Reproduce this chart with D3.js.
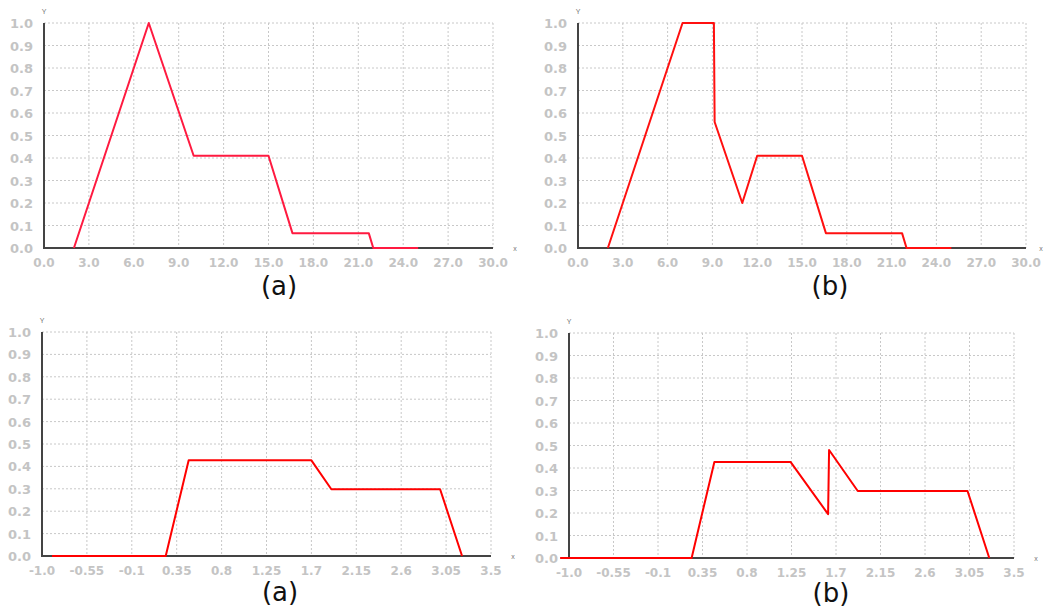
<!DOCTYPE html>
<html>
<head>
<meta charset="utf-8">
<script src="https://cdn.jsdelivr.net/npm/d3@7"></script>
<style>
  body { margin: 0; background: #fff; }
  svg { display: block; }
  .tick-label { font-family: "DejaVu Sans", sans-serif; font-weight: bold; fill: #c4c4c4; }
  .axis-name { font-family: "Liberation Sans", Arial, sans-serif; font-size: 7px; fill: #777; }
  .caption { font-family: "DejaVu Sans", Verdana, sans-serif; font-size: 26px; fill: #111; }
</style>
</head>
<body>
<div id="chart"></div>
<script>
// values
var yTicks = [0, 0.1, 0.2, 0.3, 0.4, 0.5, 0.6, 0.7, 0.8, 0.9, 1.0];
var topTicks = [0, 3, 6, 9, 12, 15, 18, 21, 24, 27, 30];
var bottomTicks = [-1.0, -0.55, -0.1, 0.35, 0.8, 1.25, 1.7, 2.15, 2.6, 3.05, 3.5];
var bottomTickLabels = ["-1.0", "-0.55", "-0.1", "0.35", "0.8", "1.25", "1.7", "2.15", "2.6", "3.05", "3.5"];

var topA_x = [2, 7, 10, 15, 16.6, 21.7, 22.0, 25];
var topA_y = [0, 1, 0.41, 0.41, 0.066, 0.066, 0, 0];

var topB_x = [2, 7, 9.1, 9.15, 11, 12, 15, 16.6, 21.7, 22.0, 25];
var topB_y = [0, 1, 1, 0.56, 0.2, 0.41, 0.41, 0.066, 0.066, 0, 0];

var botA_x = [-0.9, 0.24, 0.47, 1.7, 1.9, 2.99, 3.21];
var botA_y = [0, 0, 0.427, 0.427, 0.298, 0.298, 0];

var botB_x = [-1.09, 0.24, 0.47, 1.24, 1.62, 1.63, 1.92, 3.03, 3.25];
var botB_y = [0, 0, 0.427, 0.427, 0.195, 0.48, 0.298, 0.298, 0];

var width = 1047, height = 610;

var svg = d3.select("#chart").append("svg")
    .attr("width", width)
    .attr("height", height);

var panels = [
    { left: 44, top: 23, right: 493, bottom: 248, domain: [0, 30], ticks: topTicks,
      fmt: d3.format(".1f"), xs: topA_x, ys: topA_y, color: "#ff1a40", caption: "(a)", capX: 279, capY: 295 },
    { left: 578, top: 23, right: 1026, bottom: 248, domain: [0, 30], ticks: topTicks,
      fmt: d3.format(".1f"), xs: topB_x, ys: topB_y, color: "#ff1010", caption: "(b)", capX: 830, capY: 295 },
    { left: 42, top: 332, right: 491, bottom: 556, domain: [-1, 3.5], ticks: bottomTicks,
      labels: bottomTickLabels, xs: botA_x, ys: botA_y, color: "#ff0000", caption: "(a)", capX: 280, capY: 601 },
    { left: 569, top: 333, right: 1014, bottom: 558, domain: [-1, 3.5], ticks: bottomTicks,
      labels: bottomTickLabels, xs: botB_x, ys: botB_y, color: "#ff0000", caption: "(b)", capX: 831, capY: 602 }
];

panels.forEach(drawPanel);

function drawPanel(p) {
    var x = d3.scaleLinear().domain(p.domain).range([p.left, p.right]);
    var y = d3.scaleLinear().domain([0, 1]).range([p.bottom, p.top]);
    var g = svg.append("g");

    // dashed grid
    g.selectAll(".vgrid").data(p.ticks).enter().append("line")
        .attr("x1", d => x(d)).attr("x2", d => x(d))
        .attr("y1", p.top).attr("y2", p.bottom)
        .attr("stroke", "#c8c8c8").attr("stroke-width", 1)
        .attr("stroke-dasharray", "2,2");
    g.selectAll(".hgrid").data(yTicks).enter().append("line")
        .attr("x1", p.left).attr("x2", p.right)
        .attr("y1", d => y(d)).attr("y2", d => y(d))
        .attr("stroke", "#c8c8c8").attr("stroke-width", 1)
        .attr("stroke-dasharray", "2,2");

    // axis lines
    g.append("line")
        .attr("x1", p.left).attr("x2", p.left)
        .attr("y1", p.top).attr("y2", p.bottom + 1)
        .attr("stroke", "#444").attr("stroke-width", 2);
    g.append("line")
        .attr("x1", p.left).attr("x2", p.right)
        .attr("y1", p.bottom).attr("y2", p.bottom)
        .attr("stroke", "#444").attr("stroke-width", 2);

    // tick labels
    g.selectAll(".ylab").data(yTicks).enter().append("text")
        .attr("class", "tick-label")
        .attr("x", p.left - 11)
        .attr("y", d => y(d) + 5)
        .attr("text-anchor", "end")
        .style("font-size", "13px")
        .text(d3.format(".1f"));
    g.selectAll(".xlab").data(p.ticks).enter().append("text")
        .attr("class", "tick-label")
        .attr("x", d => x(d))
        .attr("y", p.bottom + 19)
        .attr("text-anchor", "middle")
        .style("font-size", "12px")
        .text((d, i) => p.labels ? p.labels[i] : p.fmt(d));

    // tiny axis names
    g.append("text").attr("class", "axis-name")
        .attr("x", p.left).attr("y", p.top - 9)
        .attr("text-anchor", "middle").text("Y");
    g.append("text").attr("class", "axis-name")
        .attr("x", Math.min(p.right + 22, width - 6)).attr("y", p.bottom + 3)
        .attr("text-anchor", "middle").text("x");

    // the curve
    var pts = p.xs.map((v, i) => [v, p.ys[i]]);
    var line = d3.line().x(d => x(d[0])).y(d => y(d[1]));
    g.append("path")
        .datum(pts)
        .attr("d", line)
        .attr("fill", "none")
        .attr("stroke", p.color)
        .attr("stroke-width", 2)
        .attr("stroke-linejoin", "round");

    g.append("text").attr("class", "caption")
        .attr("x", p.capX).attr("y", p.capY)
        .attr("text-anchor", "middle")
        .text(p.caption);
}
</script>
</body>
</html>
